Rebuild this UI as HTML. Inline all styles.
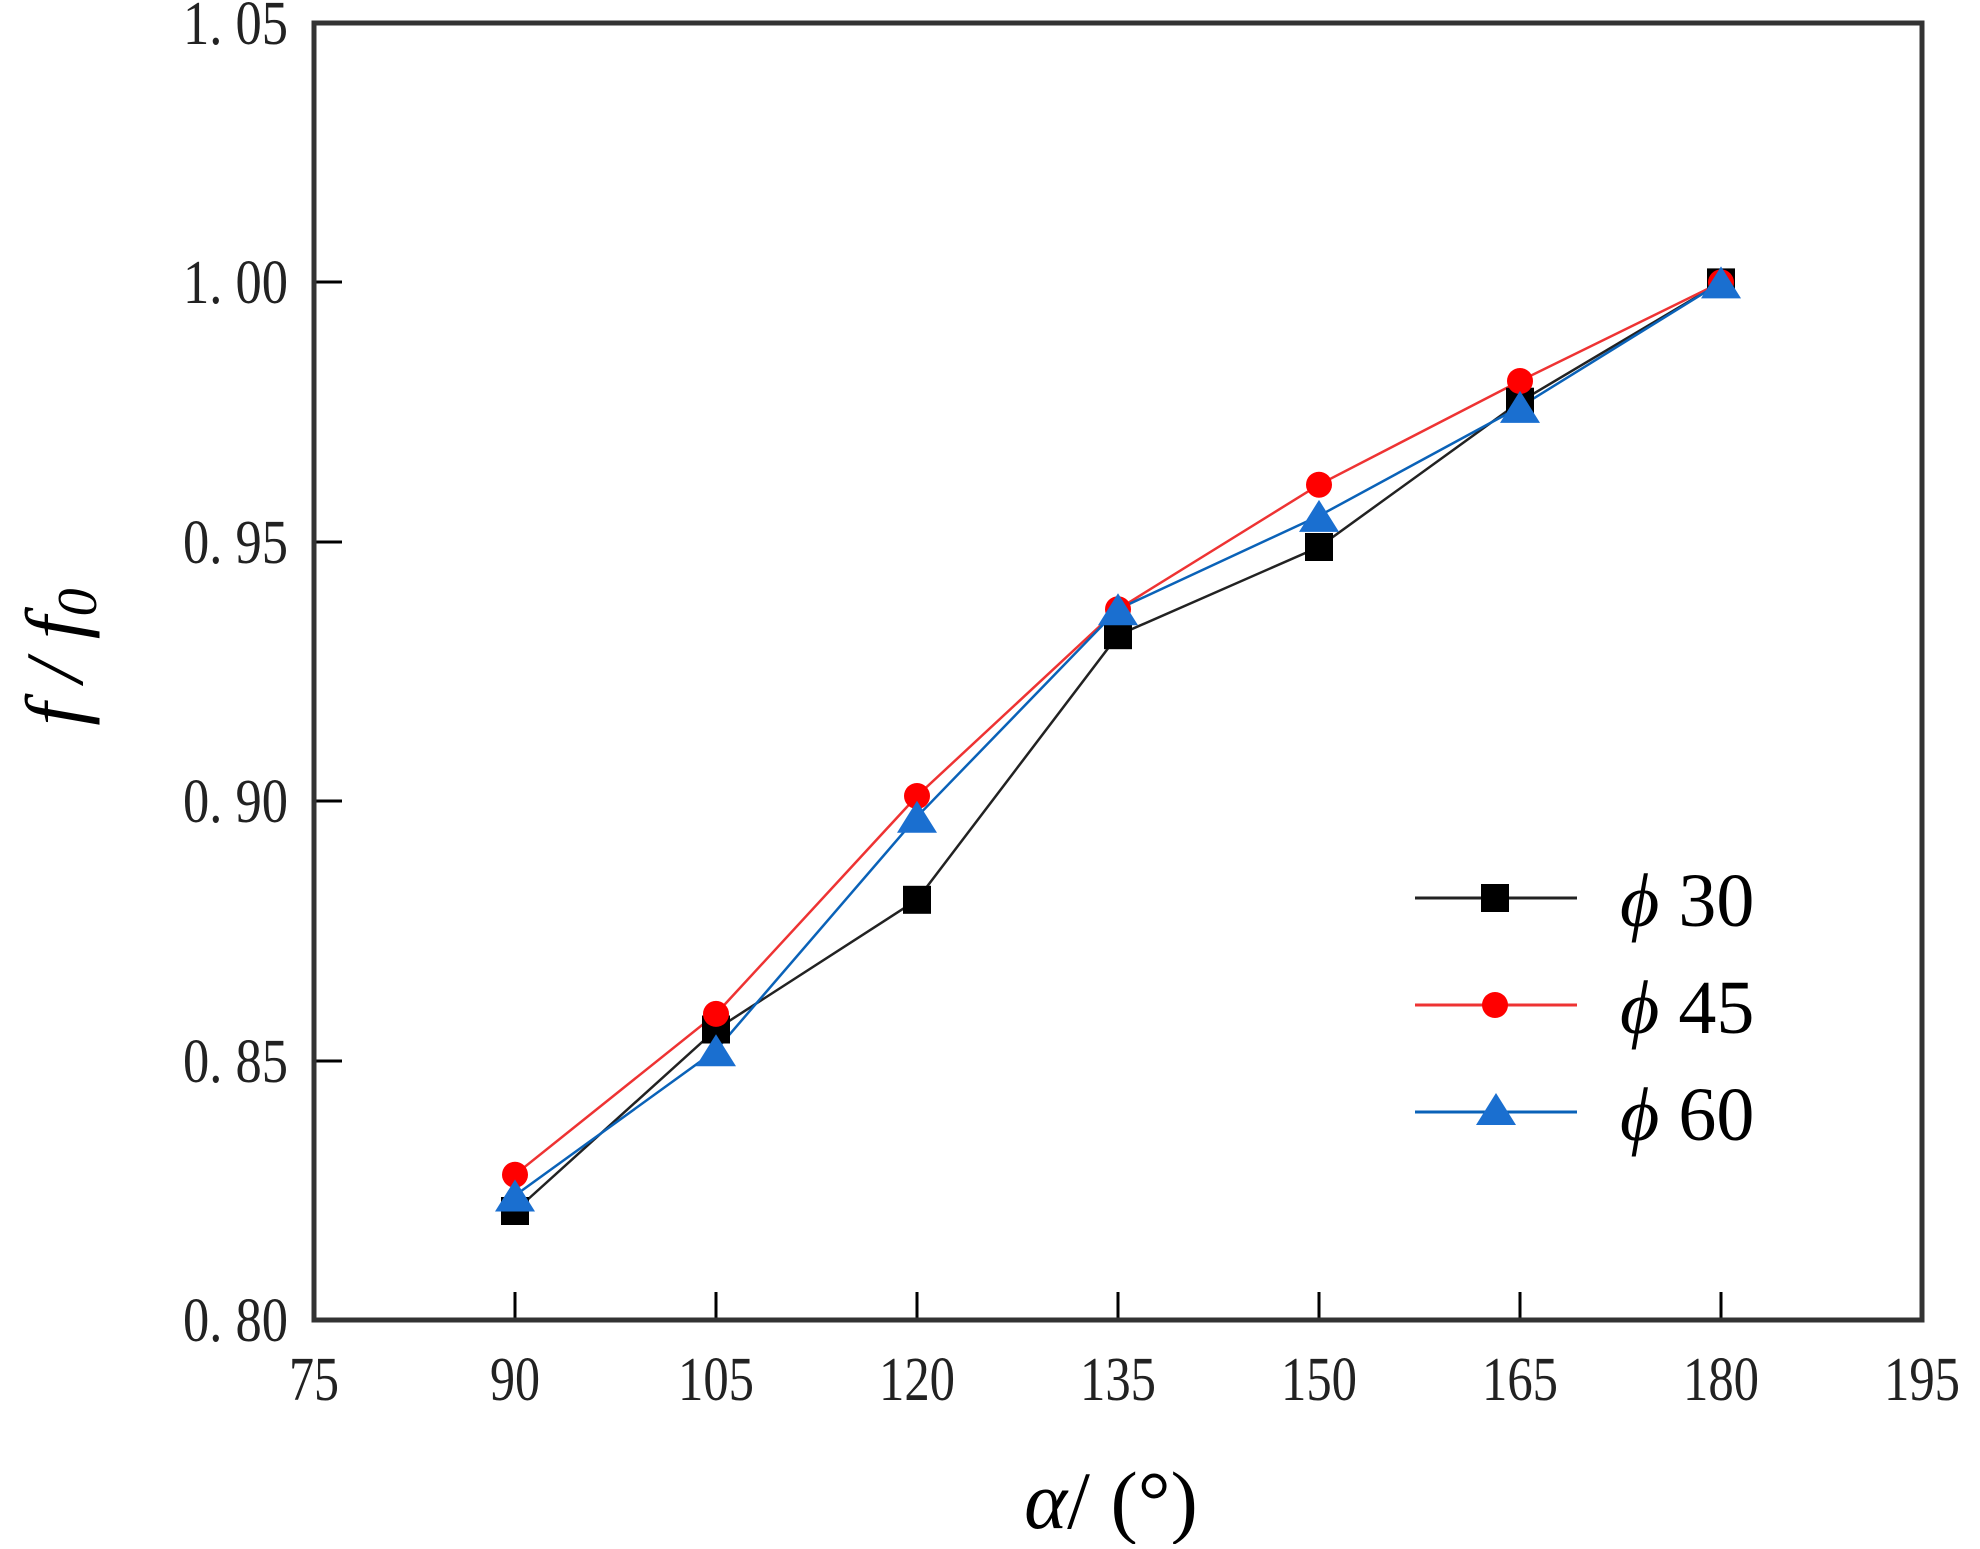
<!DOCTYPE html>
<html><head><meta charset="utf-8"><style>body{margin:0;background:#fff}</style></head><body>
<svg width="1980" height="1544" xmlns="http://www.w3.org/2000/svg" font-family="Liberation Serif, serif">
<rect width="1980" height="1544" fill="#fff"/>
<g stroke="#000" stroke-width="3">
<line x1="515" y1="1320" x2="515" y2="1292"/><line x1="716" y1="1320" x2="716" y2="1292"/><line x1="917" y1="1320" x2="917" y2="1292"/><line x1="1118" y1="1320" x2="1118" y2="1292"/><line x1="1319" y1="1320" x2="1319" y2="1292"/><line x1="1520" y1="1320" x2="1520" y2="1292"/><line x1="1721" y1="1320" x2="1721" y2="1292"/>
<line x1="314" y1="282" x2="342" y2="282"/><line x1="314" y1="542" x2="342" y2="542"/><line x1="314" y1="801" x2="342" y2="801"/><line x1="314" y1="1061" x2="342" y2="1061"/>
</g>
<rect x="314" y="23" width="1608" height="1297" fill="none" stroke="#333" stroke-width="5"/>
<g font-size="62" fill="#222" text-anchor="end">
<text x="288" y="44" textLength="105" lengthAdjust="spacingAndGlyphs">1. 05</text>
<text x="288" y="303" textLength="105" lengthAdjust="spacingAndGlyphs">1. 00</text>
<text x="288" y="563" textLength="105" lengthAdjust="spacingAndGlyphs">0. 95</text>
<text x="288" y="822" textLength="105" lengthAdjust="spacingAndGlyphs">0. 90</text>
<text x="288" y="1082" textLength="105" lengthAdjust="spacingAndGlyphs">0. 85</text>
<text x="288" y="1341" textLength="105" lengthAdjust="spacingAndGlyphs">0. 80</text>
</g>
<g font-size="62" fill="#222" text-anchor="middle">
<text x="314" y="1400" textLength="50" lengthAdjust="spacingAndGlyphs">75</text><text x="515" y="1400" textLength="50" lengthAdjust="spacingAndGlyphs">90</text><text x="716" y="1400" textLength="76" lengthAdjust="spacingAndGlyphs">105</text><text x="917" y="1400" textLength="76" lengthAdjust="spacingAndGlyphs">120</text><text x="1118" y="1400" textLength="76" lengthAdjust="spacingAndGlyphs">135</text><text x="1319" y="1400" textLength="76" lengthAdjust="spacingAndGlyphs">150</text><text x="1520" y="1400" textLength="76" lengthAdjust="spacingAndGlyphs">165</text><text x="1721" y="1400" textLength="76" lengthAdjust="spacingAndGlyphs">180</text><text x="1922" y="1400" textLength="76" lengthAdjust="spacingAndGlyphs">195</text>
</g>
<text x="1111" y="1528" font-size="82" text-anchor="middle" font-style="italic">α<tspan font-style="normal">/ (°)</tspan></text>
<text transform="translate(82,657) rotate(-90)" font-size="82" text-anchor="middle" font-style="italic">f / f<tspan font-size="56" dy="14">0</tspan></text>
<polyline fill="none" stroke="#222" stroke-width="2.5" points="515,1211 716,1029.5 917,899.8 1118,635.2 1319,547 1520,401.7 1721,282.4"/>
<polyline fill="none" stroke="#e33" stroke-width="2.5" points="515,1174.7 716,1013.9 917,796 1118,609.2 1319,484.7 1520,381 1721,282.4"/>
<polyline fill="none" stroke="#0a62b8" stroke-width="2.5" points="515,1195.5 716,1050.2 917,816.8 1118,609.2 1319,515.9 1520,406.9 1721,282.4"/>
<g fill="#000">
<rect x="501" y="1197" width="28" height="28"/><rect x="702" y="1015.5" width="28" height="28"/><rect x="903" y="885.8" width="28" height="28"/><rect x="1104" y="621.2" width="28" height="28"/><rect x="1305" y="533" width="28" height="28"/><rect x="1506" y="387.7" width="28" height="28"/><rect x="1707" y="268.4" width="28" height="28"/>
</g>
<g fill="#f00">
<circle cx="515" cy="1174.7" r="13"/><circle cx="716" cy="1013.9" r="13"/><circle cx="917" cy="796" r="13"/><circle cx="1118" cy="609.2" r="13"/><circle cx="1319" cy="484.7" r="13"/><circle cx="1520" cy="381" r="13"/><circle cx="1721" cy="282.4" r="13"/>
</g>
<g fill="#1a6fd0">
<polygon points="515,1179.5 535,1211.5 495,1211.5"/><polygon points="716,1034.2 736,1066.2 696,1066.2"/><polygon points="917,800.8 937,832.8 897,832.8"/><polygon points="1118,593.2 1138,625.2 1098,625.2"/><polygon points="1319,499.9 1339,531.9 1299,531.9"/><polygon points="1520,390.9 1540,422.9 1500,422.9"/><polygon points="1721,266.4 1741,298.4 1701,298.4"/>
</g>
<line x1="1415" y1="898" x2="1577" y2="898" stroke="#222" stroke-width="3"/>
<rect x="1481" y="884" width="28" height="28" fill="#000"/>
<line x1="1415" y1="1005" x2="1577" y2="1005" stroke="#e33" stroke-width="3"/>
<circle cx="1495" cy="1005" r="13" fill="#f00"/>
<line x1="1415" y1="1112" x2="1577" y2="1112" stroke="#0a62b8" stroke-width="3"/>
<polygon points="1496,1093 1516,1125 1476,1125" fill="#1a6fd0"/>
<g font-size="76" fill="#000">
<text x="1620" y="926"><tspan font-style="italic">ϕ</tspan> 30</text>
<text x="1620" y="1033"><tspan font-style="italic">ϕ</tspan> 45</text>
<text x="1620" y="1140"><tspan font-style="italic">ϕ</tspan> 60</text>
</g>
</svg>
</body></html>
